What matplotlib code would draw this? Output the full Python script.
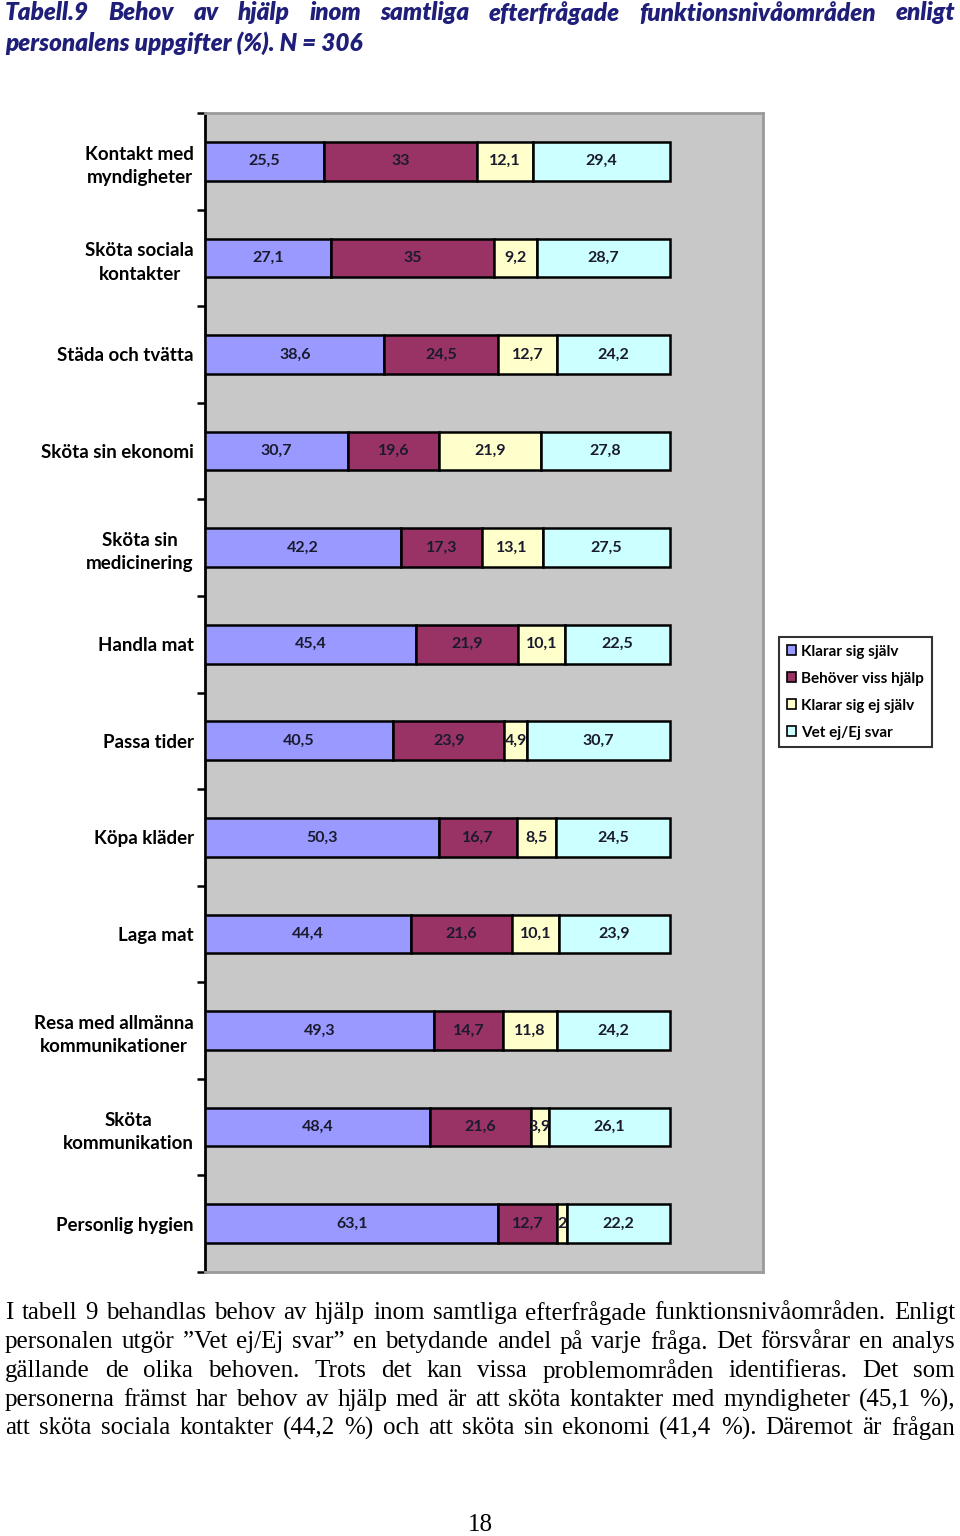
import numpy as np
import matplotlib
matplotlib.use("Agg")
import matplotlib.pyplot as plt

kategorier = [
    "Kontakt med\nmyndigheter",
    "Sköta sociala\nkontakter",
    "Städa och tvätta",
    "Sköta sin ekonomi",
    "Sköta sin\nmedicinering",
    "Handla mat",
    "Passa tider",
    "Köpa kläder",
    "Laga mat",
    "Resa med allmänna\nkommunikationer",
    "Sköta\nkommunikation",
    "Personlig hygien",
]
klarar_sig_sjalv = [25.5, 27.1, 38.6, 30.7, 42.2, 45.4, 40.5, 50.3, 44.4, 49.3, 48.4, 63.1]
behover_viss_hjalp = [33, 35, 24.5, 19.6, 17.3, 21.9, 23.9, 16.7, 21.6, 14.7, 21.6, 12.7]
klarar_sig_ej_sjalv = [12.1, 9.2, 12.7, 21.9, 13.1, 10.1, 4.9, 8.5, 10.1, 11.8, 3.9, 2]
vet_ej = [29.4, 28.7, 24.2, 27.8, 27.5, 22.5, 30.7, 24.5, 23.9, 24.2, 26.1, 22.2]

serier = [
    ("Klarar sig själv", klarar_sig_sjalv, "#9999FF"),
    ("Behöver viss hjälp", behover_viss_hjalp, "#993366"),
    ("Klarar sig ej själv", klarar_sig_ej_sjalv, "#FFFFCC"),
    ("Vet ej/Ej svar", vet_ej, "#CCFFFF"),
]

titel_rad1 = "Tabell.9 Behov av hjälp inom samtliga efterfrågade funktionsnivåområden enligt"
titel_rad2 = "personalens uppgifter (%). N = 306"

brodtext = [
    "I tabell 9 behandlas behov av hjälp inom samtliga efterfrågade funktionsnivåområden. Enligt",
    "personalen utgör ”Vet ej/Ej svar” en betydande andel på varje fråga. Det försvårar en analys",
    "gällande de olika behoven. Trots det kan vissa problemområden identifieras. Det som",
    "personerna främst har behov av hjälp med är att sköta kontakter med myndigheter (45,1 %),",
    "att sköta sociala kontakter (44,2 %) och att sköta sin ekonomi (41,4 %). Däremot är frågan",
]
sidnummer = "18"

W, H = 960, 1536
fig = plt.figure(figsize=(W / 100, H / 100), dpi=100)
fig.patch.set_facecolor("white")
renderer = fig.canvas.get_renderer()


def fx(px):
    return px / W


def fy(px):
    return 1 - px / H


def justify(words_line, x0, x1, y, **kw):
    # place words so the line fills x0..x1
    words = words_line.split(" ")
    objs = [fig.text(0, fy(y), w, va="center", ha="left", **kw) for w in words]
    widths = [o.get_window_extent(renderer).width for o in objs]
    gap = (x1 - x0 - sum(widths)) / max(len(words) - 1, 1)
    x = x0
    for o, w in zip(objs, widths):
        o.set_x(fx(x))
        x += w + gap


titel_kw = dict(fontsize=17.5, fontweight="heavy", fontstyle="italic",
                color="#1F1F7A", family=["Lato", "DejaVu Sans"])
justify(titel_rad1, 5, 955, 13, **titel_kw)
fig.text(fx(5), fy(43), titel_rad2, va="center", ha="left", **titel_kw)

ax = fig.add_axes([fx(205), fy(1272), fx(763) - fx(205), (1272 - 113) / H])
ax.set_facecolor("#C8C8C8")

y = np.arange(len(kategorier))
left = np.zeros(len(kategorier))
for namn, varden, farg in serier:
    v = np.array(varden, dtype=float)
    ax.barh(y, v, left=left, height=0.4, color=farg, edgecolor="black",
            linewidth=1.8, label=namn, zorder=3)
    for yi, li, vi in zip(y, left, v):
        txt = f"{vi:g}".replace(".", ",")
        ax.text(li + vi / 2, yi, txt, ha="center", va="center", fontsize=11.5,
                fontweight="bold", color="#1a1a2e", family=["Lato", "DejaVu Sans"],
                zorder=4)
    left += v

ax.set_xlim(0, 120)
ax.set_ylim(len(kategorier) - 0.5, -0.5)
ax.set_xticks([])
ax.set_yticks(y)
ax.set_yticklabels(kategorier, fontsize=13.5, fontweight="bold",
                   family=["Lato", "DejaVu Sans"], multialignment="center",
                   linespacing=1.45)
ax.tick_params(axis="y", which="major", length=0, pad=8)
ax.set_yticks(np.arange(-0.5, len(kategorier)), minor=True)
ax.tick_params(axis="y", which="minor", length=6, width=1.8, color="black")

ax.spines["left"].set_color("black")
ax.spines["left"].set_linewidth(2)
for s in ["top", "right", "bottom"]:
    ax.spines[s].set_color("#9A9A9A")
    ax.spines[s].set_linewidth(2)

leg = fig.legend(loc="upper left", bbox_to_anchor=(fx(779), fy(637)),
                 prop={"family": ["Lato", "DejaVu Sans"], "weight": "bold", "size": 11},
                 frameon=True, fancybox=False, edgecolor="black",
                 handlelength=0.6, handleheight=0.6, handletextpad=0.35,
                 labelspacing=0.85, borderpad=0.5, borderaxespad=0)
leg.get_frame().set_linewidth(1.5)
for h in leg.legend_handles:
    h.set_linewidth(1.2)

body_kw = dict(fontsize=18, color="black", family=["Liberation Serif", "DejaVu Serif"])
rad_y = [1313, 1342, 1371, 1400, 1428]
for rad, yy in zip(brodtext, rad_y):
    justify(rad, 5, 955, yy, **body_kw)

fig.text(fx(480), fy(1525), sidnummer, ha="center", va="center", **body_kw)

fig.savefig("out.png", dpi=100)
